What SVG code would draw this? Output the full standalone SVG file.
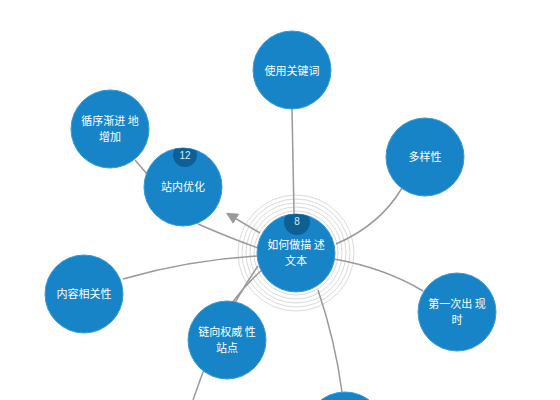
<svg xmlns="http://www.w3.org/2000/svg" width="560" height="400" viewBox="0 0 560 400">
<defs>
<style>
.node{fill:#1784c8;stroke:#3a9ad4;stroke-width:1}
.lbl{fill:#ffffff;font-family:"Noto Sans CJK SC","Liberation Sans",sans-serif;font-size:11px;text-anchor:middle}
.badge{fill:#0e5f96}
.btxt{fill:#d8ecf8;font-family:"Liberation Sans",sans-serif;font-size:10px;text-anchor:middle}
.conn{fill:none;stroke:#9a9a9a;stroke-width:1.5}
.ring{fill:none;stroke:#dadada;stroke-width:1}
</style>
<marker id="arr" viewBox="0 0 10 10" refX="8" refY="5" markerWidth="8" markerHeight="8" orient="auto">
<path d="M0,0 L10,5 L0,10 z" fill="#9a9a9a"/>
</marker>
<clipPath id="cc"><circle cx="296" cy="253" r="39"/></clipPath>
<clipPath id="cz"><circle cx="183" cy="187" r="39"/></clipPath>
</defs>
<rect width="560" height="400" fill="#ffffff"/>
<g id="rings">
<circle class="ring" cx="296" cy="253" r="42"/>
<circle class="ring" cx="296" cy="253" r="46"/>
<circle class="ring" cx="296" cy="253" r="50"/>
<circle class="ring" cx="296" cy="253" r="54"/>
<circle class="ring" cx="296" cy="253" r="58"/>
</g>
<g id="connectors">
<path class="conn" d="M292,109 L294,214"/>
<path class="conn" d="M402,188 Q380,225 336,244"/>
<path class="conn" d="M423,291 Q385,268 334,259"/>
<path class="conn" d="M262,270 Q245,285 232,303"/>
<path class="conn" d="M258,266 Q220,320 193,400"/>
<path class="conn" d="M318,290 Q335,340 342,392"/>
<path class="conn" d="M123,279 Q190,260 258,256"/>
<path class="conn" d="M198,224 Q230,238 258,248"/>
<path class="conn" d="M135,160 L147,174"/>
<path class="conn" d="M260,233 L228,214" marker-end="url(#arr)"/>
</g>
<g id="n-center">
<circle class="node" cx="296" cy="253" r="39"/>
<circle class="badge" cx="297" cy="222" r="13" clip-path="url(#cc)"/>
<text class="btxt" x="297" y="225">8</text>
<text class="lbl" x="296" y="249">如何做描 述</text>
<text class="lbl" x="296" y="265">文本</text>
</g>
<g id="n-keyword">
<circle class="node" cx="292" cy="70" r="39"/>
<text class="lbl" x="292" y="75">使用关键词</text>
</g>
<g id="n-diverse">
<circle class="node" cx="425" cy="157" r="39"/>
<text class="lbl" x="425" y="161">多样性</text>
</g>
<g id="n-first">
<circle class="node" cx="457" cy="312" r="39"/>
<text class="lbl" x="457" y="308">第一次出 现</text>
<text class="lbl" x="457" y="324">时</text>
</g>
<g id="n-content">
<circle class="node" cx="84" cy="294" r="39"/>
<text class="lbl" x="84" y="298">内容相关性</text>
</g>
<g id="n-link">
<circle class="node" cx="227" cy="340" r="39"/>
<text class="lbl" x="227" y="336">链向权威 性</text>
<text class="lbl" x="227" y="352">站点</text>
</g>
<g id="n-gradual">
<circle class="node" cx="110" cy="129" r="39"/>
<text class="lbl" x="110" y="125">循序渐进 地</text>
<text class="lbl" x="110" y="141">增加</text>
</g>
<g id="n-onsite">
<circle class="node" cx="183" cy="187" r="39"/>
<circle class="badge" cx="185" cy="155" r="12" clip-path="url(#cz)"/>
<text class="btxt" x="185" y="159">12</text>
<text class="lbl" x="183" y="191">站内优化</text>
</g>
<g id="n-bottom">
<circle class="node" cx="345" cy="432" r="40"/>
</g>
</svg>
